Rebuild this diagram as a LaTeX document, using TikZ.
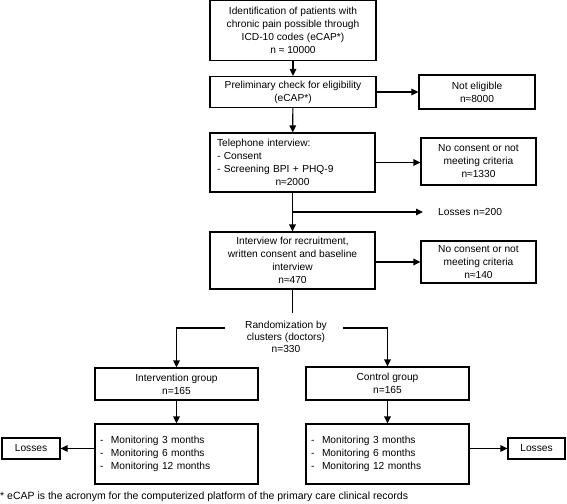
\documentclass[tikz,border=0pt]{standalone}
\usepackage{fontspec}
\setmainfont{Liberation Sans}
\usetikzlibrary{arrows.meta}
\begin{document}
\begin{tikzpicture}[x=1pt,y=-1pt,
  txt/.style={font=\fontsize{10.2}{13}\selectfont},
  box/.style={txt, draw, line width=1.1pt, align=center, inner sep=0pt},
  ar/.style={line width=1.2pt, -{Triangle[length=7pt,width=6.5pt]}},
  ln/.style={line width=1.2pt}
]
\useasboundingbox (0,0) rectangle (567,503);
% left column
\node[box, minimum width=166pt, minimum height=60pt] (b1) at (293,30.5)
  {Identification of patients with\\chronic pain possible through\\ICD-10 codes (eCAP*)\\n ≈ 10000};
\node[box, minimum width=166pt, minimum height=31pt] (b2) at (293,92)
  {Preliminary check for eligibility\\(eCAP*)};
\node[box, minimum width=116pt, minimum height=34pt] (ne) at (477,92)
  {Not eligible\\n≈8000};
\node[box, minimum width=165pt, minimum height=59pt, text width=151pt, align=left] (b3) at (292.5,162.5)
  {Telephone interview:\\- Consent\\- Screening BPI + PHQ-9\\\makebox[\linewidth]{n≈2000}};
\node[box, minimum width=115pt, minimum height=47pt] (nc1) at (478.5,161.5)
  {No consent or not\\meeting criteria\\n≈1330};
\node[txt, anchor=west, inner sep=0pt] (l200) at (438,212) {Losses n=200};
\node[box, minimum width=165pt, minimum height=57pt] (b4) at (292.5,260.5)
  {Interview for recruitment,\\written consent and baseline\\interview\\n≈470};
\node[box, minimum width=115pt, minimum height=42pt] (nc2) at (478.5,262)
  {No consent or not\\meeting criteria\\n≈140};
\node[txt, align=center, inner sep=0pt, font=\fontsize{10.2}{12}\selectfont] (rand) at (286,337)
  {Randomization by\\clusters (doctors)\\n=330};
\node[box, minimum width=163pt, minimum height=32pt] (int) at (176.5,384)
  {Intervention group\\n=165};
\node[box, minimum width=163pt, minimum height=33pt] (ctl) at (387.5,383.5)
  {Control group\\n=165};
\node[box, minimum width=163pt, minimum height=60pt, text width=153pt, align=left, font=\fontsize{10.2}{12.7}\selectfont] (m1) at (176.5,454)
  {\makebox[11pt][l]{-}Monitoring 3 months\\\makebox[11pt][l]{-}Monitoring 6 months\\\makebox[11pt][l]{-}Monitoring 12 months};
\node[box, minimum width=163pt, minimum height=60pt, text width=153pt, align=left, font=\fontsize{10.2}{12.7}\selectfont] (m2) at (387.5,454)
  {\makebox[11pt][l]{-}Monitoring 3 months\\\makebox[11pt][l]{-}Monitoring 6 months\\\makebox[11pt][l]{-}Monitoring 12 months};
\node[box, minimum width=58pt, minimum height=21pt] (los1) at (31,448.5) {Losses};
\node[box, minimum width=57pt, minimum height=21pt] (los2) at (536.5,448.5) {Losses};
\node[txt, anchor=west, inner sep=0pt, font=\fontsize{10.5}{13}\selectfont] (foot) at (0,497)
  {* eCAP is the acronym for the computerized platform of the primary care clinical records};
% coordinates
\coordinate (br) at (292.5,212);
\coordinate (rtop) at (292.5,313);
\coordinate (rl) at (225,328);
\coordinate (rr) at (343,328);
% connectors
\draw[ar] (b1) -- (b2);
\draw[ar] (b2.east) -- (ne.west);
\draw[ar] (b2) -- (b3);
\draw[ar] (b3.east) -- (b3.east -| nc1.west);
\draw[ar] (b3) -- (b4);
\draw[ar, shorten >=15pt] (br) -- (l200.west);
\draw[ar] (b4.east |- nc2.west) -- (nc2.west);
\draw[ln] (b4.south) -- (rtop);
\draw[ar] (rl) -| (int.north);
\draw[ar] (rr) -| (ctl.north);
\draw[ar] (int) -- (m1);
\draw[ar] (ctl) -- (m2);
\draw[ar] (m1.west |- los1.east) -- (los1.east);
\draw[ar] (m2.east |- los2.west) -- (los2.west);
\end{tikzpicture}
\end{document}
